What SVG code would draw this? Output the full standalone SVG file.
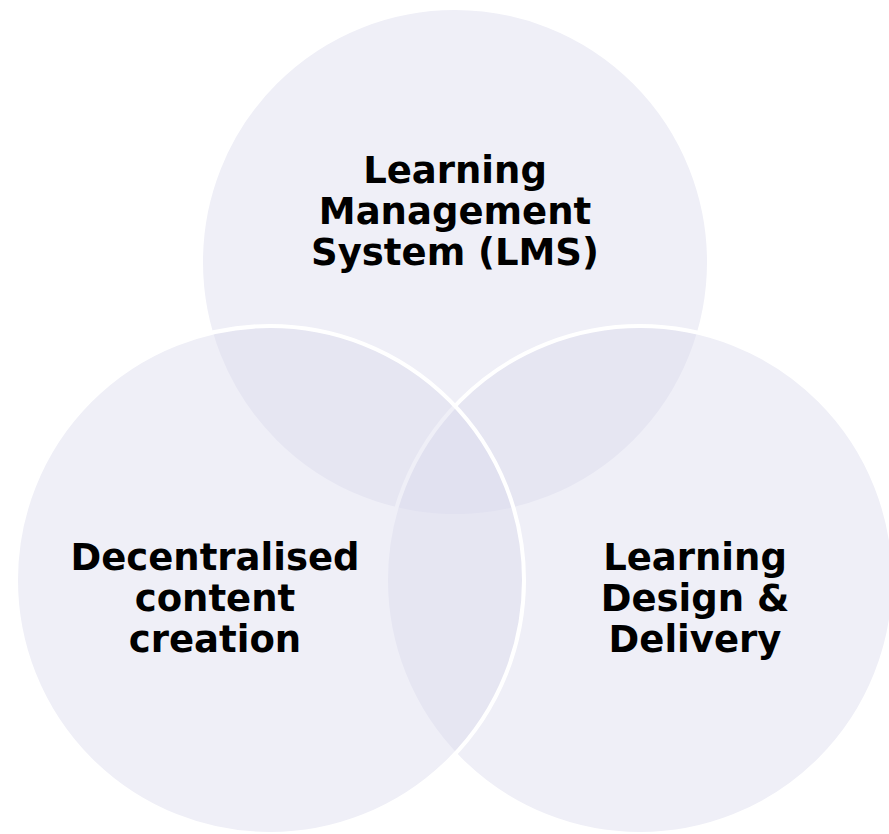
<svg xmlns="http://www.w3.org/2000/svg" width="889" height="834" viewBox="0 0 889 834">
<style>
.c{fill:#DBDBED;fill-opacity:0.44;stroke:#FFFFFF;stroke-width:4}
.t{font-family:"DejaVu Sans","Verdana",sans-serif;font-weight:bold;font-size:37px;fill:#000000;text-anchor:middle}
</style>
<rect x="0" y="0" width="889" height="834" fill="#FFFFFF"/>
<g id="lms">
<circle class="c" cx="455" cy="262" r="254"/>
</g>
<g id="design">
<circle class="c" cx="640" cy="580" r="254"/>
</g>
<g id="content">
<circle class="c" cx="270" cy="580" r="254"/>
</g>
<g id="labels">
<text class="t" x="455" y="183">Learning</text>
<text class="t" x="455" y="224">Management</text>
<text class="t" x="455" y="265">System (LMS)</text>
<text class="t" x="215" y="570">Decentralised</text>
<text class="t" x="215" y="611">content</text>
<text class="t" x="215" y="652">creation</text>
<text class="t" x="695" y="570">Learning</text>
<text class="t" x="695" y="611">Design &amp;</text>
<text class="t" x="695" y="652">Delivery</text>
</g>
<g id="connectors"/>
</svg>
